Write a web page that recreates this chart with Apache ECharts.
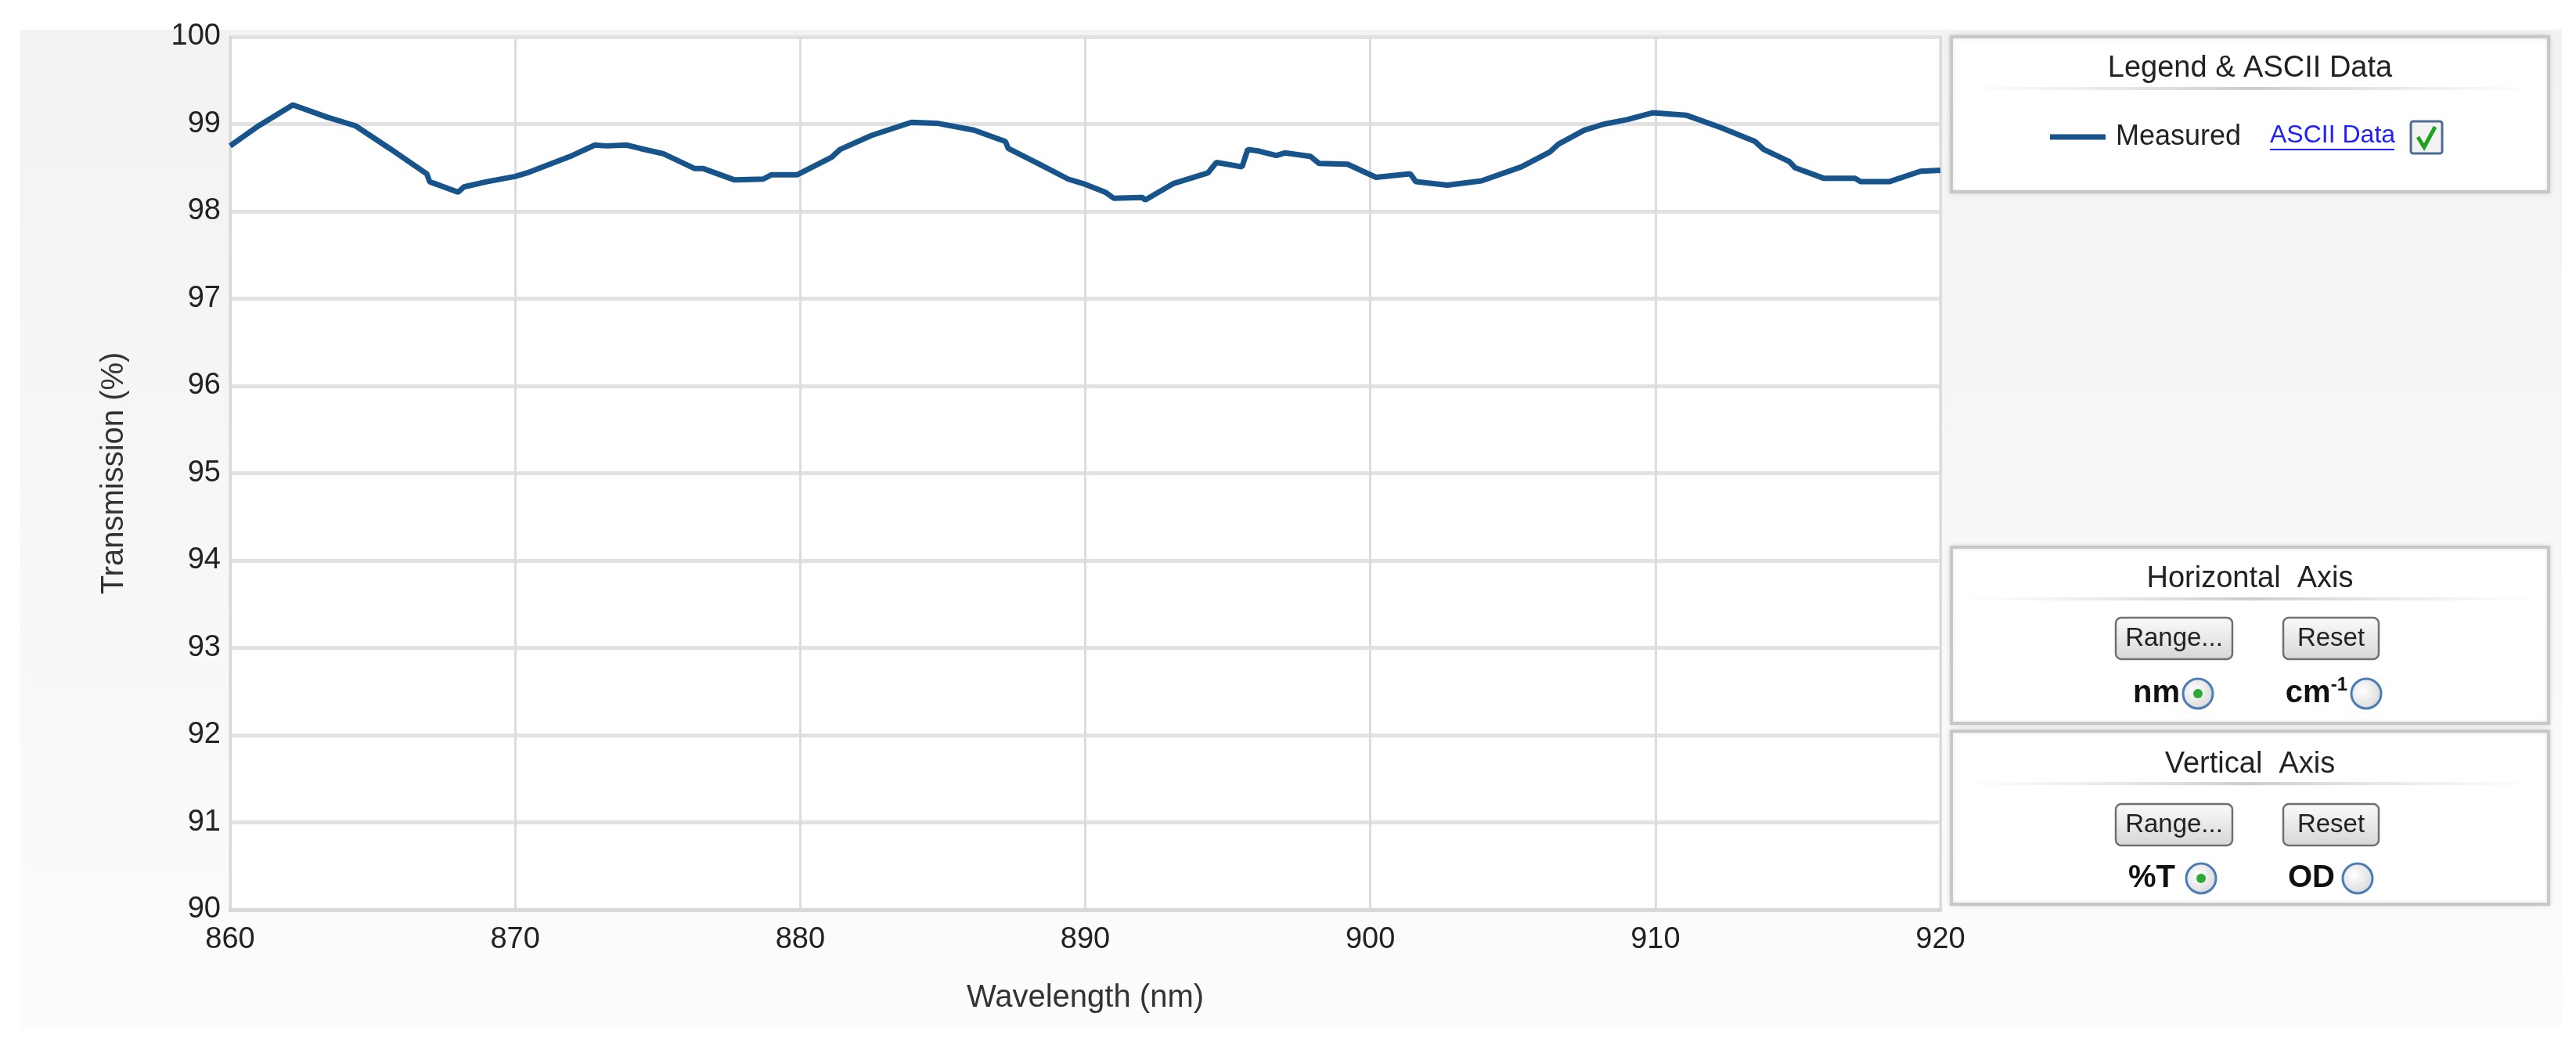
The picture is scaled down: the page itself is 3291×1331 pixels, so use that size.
<!DOCTYPE html>
<html>
<head>
<meta charset="utf-8">
<script src="https://cdn.jsdelivr.net/npm/echarts@6/dist/echarts.min.js"></script>
<style>
  html, body { margin: 0; padding: 0; background: #fff; }
  #chart { width: 3291px; height: 1331px; }
</style>
</head>
<body>
<div id="chart"></div>
<script>
// measured curve
var wavelength = [860.0, 861.0, 862.2, 863.4, 864.4, 865.6, 866.9, 867.0, 868.0, 868.2,
    869.0, 870.0, 870.5, 872.0, 872.8, 873.2, 873.9, 874.4, 875.2, 876.3,
    876.6, 877.7, 878.7, 879.0, 879.9, 881.1, 881.4, 882.5, 883.9, 884.8,
    886.1, 887.2, 887.3, 888.4, 889.4, 890.0, 890.7, 891.0, 892.0, 892.1,
    893.1, 894.3, 894.6, 895.5, 895.7, 896.1, 896.7, 897.0, 897.9, 898.2,
    899.2, 900.2, 901.4, 901.6, 902.7, 903.9, 905.3, 906.3, 906.6, 907.5,
    908.2, 909.0, 909.9, 911.1, 912.3, 913.5, 913.8, 914.7, 914.9, 915.9,
    917.0, 917.2, 918.2, 919.3, 920.0];
var transmission = [98.75, 98.98, 99.22, 99.08, 98.98, 98.72, 98.43, 98.34, 98.22, 98.28,
    98.34, 98.40, 98.45, 98.64, 98.76, 98.75, 98.76, 98.72, 98.66, 98.49,
    98.49, 98.36, 98.37, 98.42, 98.42, 98.62, 98.71, 98.87, 99.02, 99.01,
    98.93, 98.80, 98.72, 98.54, 98.37, 98.31, 98.22, 98.15, 98.16, 98.13,
    98.32, 98.44, 98.56, 98.51, 98.71, 98.69, 98.64, 98.67, 98.63, 98.55,
    98.54, 98.39, 98.43, 98.34, 98.30, 98.35, 98.51, 98.68, 98.77, 98.93,
    99.00, 99.05, 99.13, 99.10, 98.96, 98.80, 98.71, 98.57, 98.50, 98.38,
    98.38, 98.34, 98.34, 98.46, 98.47];

var seriesName = 'Measured';
var xAxisName = 'Wavelength (nm)';
var yAxisName = 'Transmission (%)';

var FONT = '"Liberation Sans", Arial, sans-serif';
var LINE_COLOR = '#17548b';

var points = [];
for (var i = 0; i < wavelength.length; i++) {
    points.push([wavelength[i], transmission[i]]);
}

var chart = echarts.init(document.getElementById('chart'));

// --- side panel pieces (plain ui drawing, no data) ---
function sepLine(x1, x2, y) {
    return {
        type: 'rect', z: 5,
        shape: { x: x1, y: y - 2, width: x2 - x1, height: 4 },
        style: {
            fill: new echarts.graphic.LinearGradient(0, 0, 1, 0, [
                { offset: 0, color: 'rgba(220,220,220,0)' },
                { offset: 0.5, color: 'rgba(205,205,205,1)' },
                { offset: 1, color: 'rgba(220,220,220,0)' }
            ])
        }
    };
}
function box(x, y, w, h, title, titleY, sepY) {
    return [{
        type: 'rect', z: 4,
        shape: { x: x, y: y, width: w, height: h },
        style: {
            fill: '#fff', stroke: '#c8c8c8', lineWidth: 4,
            shadowBlur: 5, shadowColor: 'rgba(0,0,0,0.12)'
        }
    }, {
        type: 'text', z: 5,
        style: {
            x: x + w / 2, y: titleY, text: title, align: 'center', verticalAlign: 'middle',
            fontSize: 38, fontFamily: FONT, fill: '#222'
        }
    }, sepLine(x + 10, x + w - 10, sepY)];
}
function button(x, y, w, h, label) {
    return [{
        type: 'rect', z: 5,
        shape: { x: x, y: y, width: w, height: h, r: 7 },
        style: {
            fill: new echarts.graphic.LinearGradient(0, 0, 0, 1, [
                { offset: 0, color: '#fbfbfb' },
                { offset: 1, color: '#d6d6d6' }
            ]),
            stroke: '#707070', lineWidth: 2.5
        }
    }, {
        type: 'text', z: 6,
        style: {
            x: x + w / 2, y: y + h / 2, text: label, align: 'center', verticalAlign: 'middle',
            fontSize: 33, fontFamily: FONT, fill: '#222'
        }
    }];
}
function radio(cx, cy, on) {
    var items = [{
        type: 'circle', z: 5,
        shape: { cx: cx, cy: cy, r: 19 },
        style: {
            fill: new echarts.graphic.RadialGradient(0.4, 0.4, 0.7, [
                { offset: 0, color: '#ffffff' },
                { offset: 1, color: '#d4d4d4' }
            ]),
            stroke: '#4a7db5', lineWidth: 3
        }
    }];
    if (on) {
        items.push({
            type: 'circle', z: 6,
            shape: { cx: cx, cy: cy, r: 6 },
            style: { fill: '#2faa36' }
        });
    }
    return items;
}
function label(xRight, y, rich) {
    return {
        type: 'text', z: 6,
        style: {
            x: xRight, y: y, text: rich, align: 'right', verticalAlign: 'middle',
            fontSize: 40, fontWeight: 'bold', fontFamily: FONT, fill: '#111',
            rich: {
                sup: { fontSize: 24, fontWeight: 'bold', fontFamily: FONT, fill: '#111', verticalAlign: 'top', padding: [0, 0, 22, 0] }
            }
        }
    };
}

var PX = 2493, PW = 763;
var graphics = [].concat(
    [{
        type: 'rect', z: -10, silent: true,
        shape: { x: 26, y: 38, width: 3247, height: 1275 },
        style: {
            fill: new echarts.graphic.LinearGradient(0, 0, 0, 1, [
                { offset: 0, color: '#f2f2f2' },
                { offset: 1, color: '#fcfcfc' }
            ])
        }
    }],
    box(PX, 47, PW, 198, 'Legend & ASCII Data', 88, 113),
    [{
        type: 'text', z: 6,
        style: {
            x: 2900, y: 173, text: 'ASCII Data', verticalAlign: 'middle',
            fontSize: 32, fontFamily: FONT, fill: '#2020ff'
        }
    }, {
        type: 'line', z: 6,
        shape: { x1: 2900, y1: 191, x2: 3059, y2: 191 },
        style: { stroke: '#2020ff', lineWidth: 2 }
    }, {
        type: 'rect', z: 6,
        shape: { x: 3080, y: 155, width: 40, height: 41, r: 3 },
        style: { fill: '#f3f3f3', stroke: '#4d6d92', lineWidth: 3 }
    }, {
        type: 'polyline', z: 7,
        shape: { points: [[3089, 175], [3097, 188], [3111, 162]] },
        style: { stroke: '#1ea31e', lineWidth: 5, fill: null }
    }],
    box(PX, 699, PW, 225, 'Horizontal  Axis', 740, 765),
    button(2703, 789, 149, 53, 'Range...'),
    button(2917, 789, 122, 53, 'Reset'),
    [label(2785, 886, 'nm'), label(2999, 886, 'cm{sup|-1}')],
    radio(2808, 886, true),
    radio(3023, 886, false),
    box(PX, 934, PW, 221, 'Vertical  Axis', 977, 1001),
    button(2703, 1027, 149, 53, 'Range...'),
    button(2917, 1027, 122, 53, 'Reset'),
    [label(2779, 1122, '%T'), label(2983, 1122, 'OD')],
    radio(2812, 1122, true),
    radio(3012, 1122, false)
);

var option = {
    backgroundColor: '#fff',
    animation: false,
    textStyle: { fontFamily: FONT },
    grid: {
        left: 294, right: 812, top: 47, bottom: 169,
        show: true, backgroundColor: '#fff',
        borderColor: '#d8d8d8', borderWidth: 3
    },
    legend: {
        left: 2614, top: 152,
        data: [seriesName],
        icon: 'rect',
        itemWidth: 71, itemHeight: 7, itemGap: 10,
        textStyle: { fontSize: 36, fontFamily: FONT, color: '#222', padding: [0, 0, 0, 8] }
    },
    xAxis: {
        type: 'value', min: 860, max: 920, interval: 10,
        name: xAxisName, nameLocation: 'middle', nameGap: 93,
        nameTextStyle: { fontSize: 40, color: '#333', fontFamily: FONT },
        axisLine: { show: true, lineStyle: { color: '#d8d8d8', width: 5 } },
        axisTick: { show: false },
        axisLabel: { fontSize: 38, color: '#222', margin: 20, fontFamily: FONT },
        splitLine: { show: true, lineStyle: { color: '#dcdcdc', width: 3 } }
    },
    yAxis: {
        type: 'value', min: 90, max: 100, interval: 1,
        name: yAxisName, nameLocation: 'middle', nameGap: 128, nameRotate: 90,
        nameTextStyle: { fontSize: 40, color: '#333', fontFamily: FONT },
        axisLine: { show: true, lineStyle: { color: '#d8d8d8', width: 3 } },
        axisTick: { show: false },
        axisLabel: { fontSize: 38, color: '#222', margin: 12, fontFamily: FONT },
        splitLine: { show: true, lineStyle: { color: '#e2e2e2', width: 5 } }
    },
    graphic: graphics,
    series: [{
        name: seriesName,
        type: 'line',
        data: points,
        showSymbol: false,
        symbol: 'none',
        lineStyle: { color: LINE_COLOR, width: 7 },
        itemStyle: { color: LINE_COLOR }
    }]
};
chart.setOption(option);
</script>
</body>
</html>
